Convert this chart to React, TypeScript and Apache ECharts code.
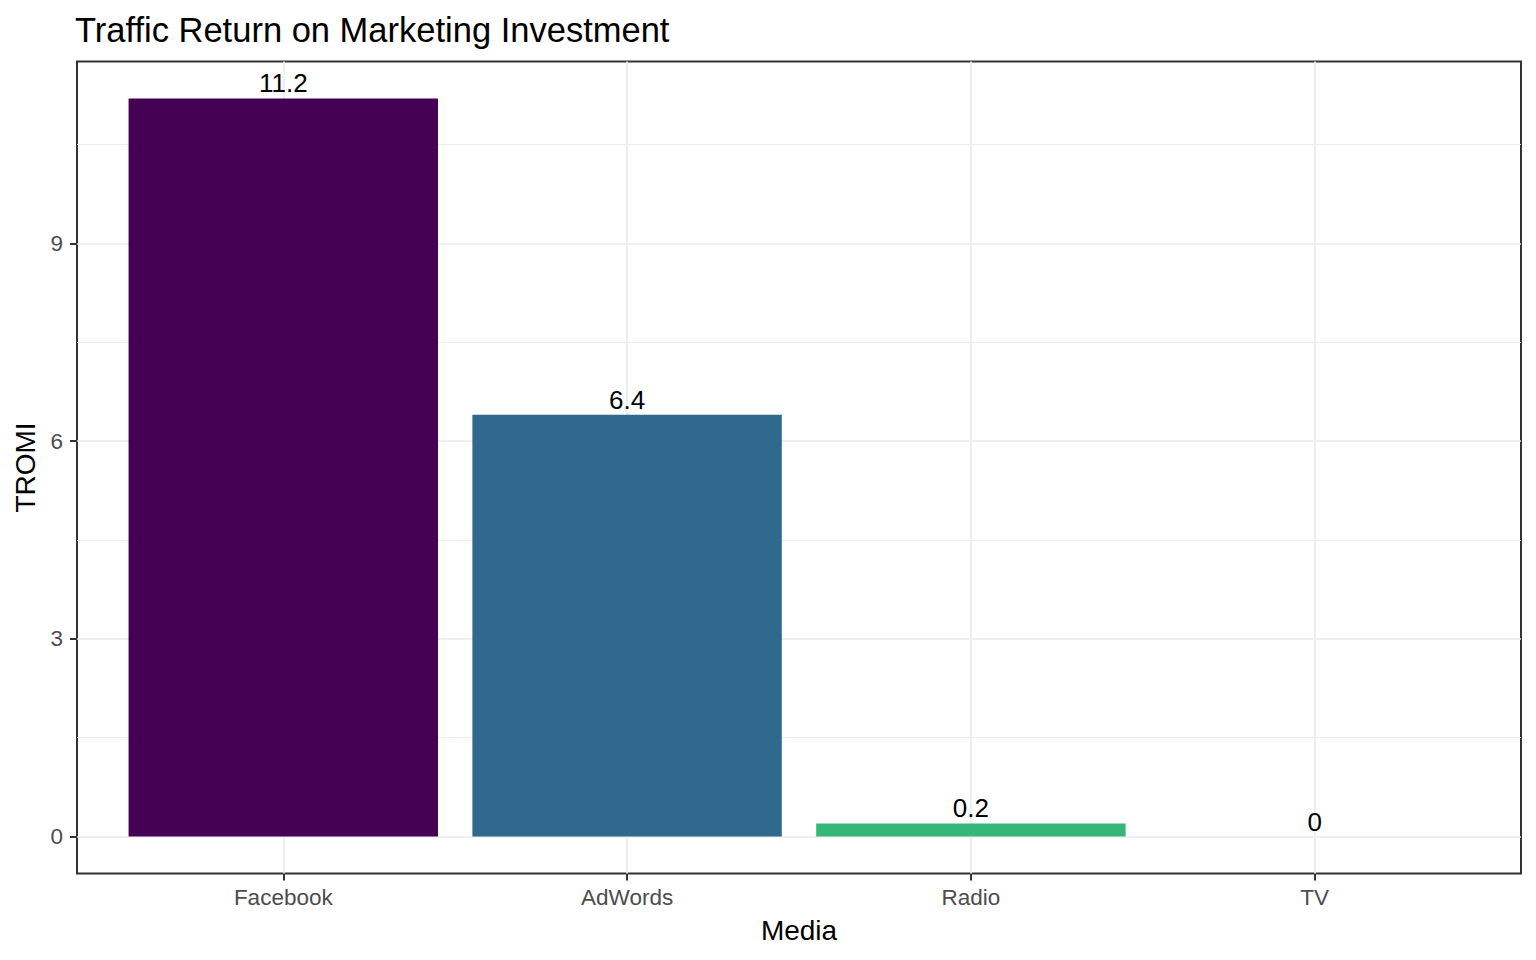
import React, { useEffect, useRef } from "react";
import * as echarts from "echarts";

const categories = ["Facebook", "AdWords", "Radio", "TV"];
const tromi = [11.2, 6.4, 0.2, 0];
const barColors = ["#440154", "#31688E", "#35B779", "#FDE725"];
const yTicks = [0, 3, 6, 9];
const yMinor = [1.5, 4.5, 7.5, 10.5];
const xPositions = [1, 2, 3, 4];

const FONT = '"Liberation Sans", Arial, sans-serif';

export default function App() {
  const ref = useRef<HTMLDivElement>(null);
  useEffect(() => {
    if (!ref.current) return;
    const chart = echarts.init(ref.current, null, { renderer: "svg" });
    const major = { color: "#EBEBEB", width: 1.7, type: "solid" };
    const minor = { color: "#EBEBEB", width: 0.9, type: "solid" };
    const gridLines = [
      ...xPositions.map((x) => ({ xAxis: x, lineStyle: major })),
      ...yTicks.map((y) => ({ yAxis: y, lineStyle: major })),
      ...yMinor.map((y) => ({ yAxis: y, lineStyle: minor })),
    ];
    chart.setOption({
      animation: false,
      backgroundColor: "#FFFFFF",
      textStyle: { fontFamily: FONT },
      title: {
        text: "Traffic Return on Marketing Investment",
        left: 75,
        top: 12,
        padding: 0,
        textStyle: { fontFamily: FONT, fontSize: 34.5, fontWeight: "normal", color: "#000000" },
      },
      grid: {
        left: 77,
        right: 15,
        top: 61.5,
        bottom: 86.5,
        show: true,
        borderColor: "#333333",
        borderWidth: 2,
        backgroundColor: "transparent",
        containLabel: false,
      },
      xAxis: {
        type: "value",
        min: 0.4,
        max: 4.6,
        name: "Media",
        nameLocation: "middle",
        nameGap: 43,
        nameTextStyle: { fontFamily: FONT, fontSize: 28, color: "#000000" },
        axisLine: { show: false, onZero: false, lineStyle: { color: "#333333" } },
        axisTick: {
          show: true,
          length: 7,
          customValues: xPositions,
          lineStyle: { color: "#333333", width: 2 },
        },
        axisLabel: {
          customValues: xPositions,
          formatter: (v: number) => categories[Math.round(v) - 1] ?? "",
          color: "#4D4D4D",
          fontSize: 22.5,
          fontFamily: FONT,
          margin: 12,
        },
        splitLine: { show: false },
      },
      yAxis: {
        type: "value",
        min: -0.56,
        max: 11.76,
        name: "TROMI",
        nameLocation: "middle",
        nameGap: 38,
        nameTextStyle: { fontFamily: FONT, fontSize: 28, color: "#000000" },
        axisLine: { show: false, onZero: false, lineStyle: { color: "#333333" } },
        axisTick: {
          show: true,
          length: 7,
          customValues: yTicks,
          lineStyle: { color: "#333333", width: 2 },
        },
        axisLabel: {
          customValues: yTicks,
          color: "#4D4D4D",
          fontSize: 22.5,
          fontFamily: FONT,
          margin: 14,
        },
        splitLine: { show: false },
      },
      series: [
        {
          type: "bar",
          barWidth: "90%",
          z: 2,
          data: tromi.map((v, i) => ({
            value: [xPositions[i], v],
            itemStyle: { color: barColors[i] },
          })),
          label: {
            show: true,
            position: "top",
            distance: 2,
            color: "#000000",
            fontSize: 26,
            fontFamily: FONT,
            formatter: (p: any) => String(p.value[1]),
          },
          markLine: {
            z: 1,
            silent: true,
            symbol: "none",
            label: { show: false },
            emphasis: { disabled: true },
            data: gridLines,
          },
        },
      ],
    });
    return () => chart.dispose();
  }, []);
  return (
    <div
      ref={ref}
      style={{ position: "fixed", left: 0, top: 0, width: 1536, height: 960 }}
    />
  );
}
